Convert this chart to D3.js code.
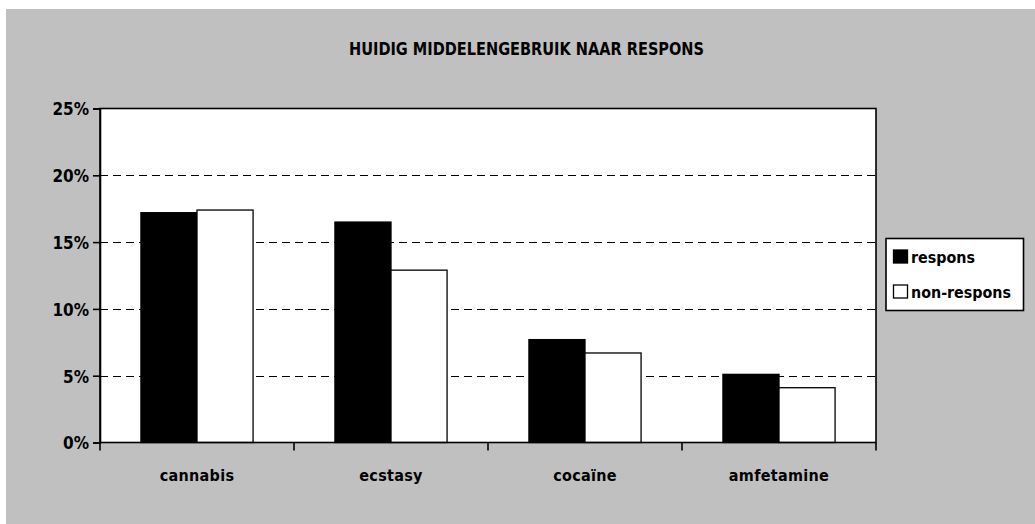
<!DOCTYPE html>
<html>
<head>
<meta charset="utf-8">
<script src="https://cdn.jsdelivr.net/npm/d3@7"></script>
<style>
  html, body { margin: 0; padding: 0; background: #ffffff; }
  svg { display: block; }
  text { font-family: "Liberation Sans Narrow", "DejaVu Sans Condensed", "Arial Narrow", sans-serif; font-weight: bold; fill: #000; }
</style>
</head>
<body>
<svg id="chart" width="1035" height="524"></svg>
<script>
const title = "HUIDIG MIDDELENGEBRUIK NAAR RESPONS";
const categories = ["cannabis", "ecstasy", "cocaïne", "amfetamine"];
const seriesNames = ["respons", "non-respons"];
const respons = [17.2, 16.5, 7.7, 5.1];
const nonRespons = [17.4, 12.9, 6.7, 4.1];
const yTicks = [0, 5, 10, 15, 20, 25];
const yTickLabels = ["0%", "5%", "10%", "15%", "20%", "25%"];

const seriesValues = [respons, nonRespons];
const seriesFill = ["#000000", "#ffffff"];

const svg = d3.select("#chart");
const W = 1035, H = 524;

// page background frame
svg.append("rect").attr("x", 6).attr("y", 9).attr("width", W - 6).attr("height", H - 9).attr("fill", "#c0c0c0");

const plot = { left: 100, right: 876, top: 108.5, bottom: 442.5 };

const x0 = d3.scaleBand().domain(categories).range([plot.left, plot.right]).padding(0);
const x1 = d3.scaleBand().domain(seriesNames).range([0, x0.bandwidth()]).paddingInner(0).paddingOuter(0.73);
const y = d3.scaleLinear().domain([0, 25]).range([plot.bottom, plot.top]);

// plot background
svg.append("rect").attr("x", plot.left).attr("y", plot.top)
  .attr("width", plot.right - plot.left).attr("height", plot.bottom - plot.top)
  .attr("fill", "#ffffff");

// gridlines
svg.append("g").selectAll("line").data(yTicks.filter(d => d > 0 && d < 25)).join("line")
  .attr("x1", plot.left).attr("x2", plot.right)
  .attr("y1", d => Math.round(y(d)) + 0.5).attr("y2", d => Math.round(y(d)) + 0.5)
  .attr("stroke", "#000").attr("stroke-width", 1).attr("stroke-dasharray", "8,5");

// bars
const groups = svg.append("g").selectAll("g").data(categories).join("g")
  .attr("transform", c => `translate(${x0(c)},0)`);
groups.selectAll("rect").data((c, i) => seriesNames.map((s, j) => ({ s, v: seriesValues[j][i], j })))
  .join("rect")
  .attr("x", d => x1(d.s))
  .attr("y", d => y(d.v))
  .attr("width", x1.bandwidth())
  .attr("height", d => plot.bottom - y(d.v))
  .attr("fill", d => seriesFill[d.j])
  .attr("stroke", "#000").attr("stroke-width", 1.3);

// frame
svg.append("rect").attr("x", plot.left).attr("y", plot.top)
  .attr("width", plot.right - plot.left).attr("height", plot.bottom - plot.top)
  .attr("fill", "none").attr("stroke", "#000").attr("stroke-width", 1.6);

// y axis
const yAxis = d3.axisLeft(y).tickValues(yTicks).tickSize(7).tickPadding(10)
  .tickFormat((d, i) => yTickLabels[i]);
const gy = svg.append("g").attr("transform", `translate(${plot.left},0)`).call(yAxis);
gy.select(".domain").attr("stroke", "#000").attr("stroke-width", 1.6);
gy.selectAll(".tick line").attr("stroke", "#000").attr("stroke-width", 1.6);
gy.selectAll(".tick text").attr("font-size", 17).attr("font-family", null).attr("dy", "0.38em").attr("x", -11);

// x axis ticks at category boundaries
const bounds = categories.map(c => x0(c)).concat([plot.right]);
svg.append("g").selectAll("line").data(bounds).join("line")
  .attr("x1", d => d).attr("x2", d => d)
  .attr("y1", plot.bottom).attr("y2", plot.bottom + 8)
  .attr("stroke", "#000").attr("stroke-width", 1.6);
svg.append("g").selectAll("text").data(categories).join("text")
  .attr("x", c => x0(c) + x0.bandwidth() / 2)
  .attr("y", 481)
  .attr("text-anchor", "middle")
  .attr("font-size", 16)
  .attr("letter-spacing", 0.3)
  .text(c => c);

// title
svg.append("text").attr("x", 526.5).attr("y", 55).attr("text-anchor", "middle")
  .attr("font-size", 17).attr("textLength", 355).attr("lengthAdjust", "spacingAndGlyphs").text(title);

// legend
const lg = svg.append("g");
lg.append("rect").attr("x", 886).attr("y", 238.5).attr("width", 137.5).attr("height", 72)
  .attr("fill", "#fff").attr("stroke", "#000").attr("stroke-width", 1.6);
const legendY = [256.5, 291.5];
const legendLen = [64, 100];
seriesNames.forEach((s, i) => {
  lg.append("rect").attr("x", 893.5).attr("y", legendY[i] - 6.5).attr("width", 14).attr("height", 13)
    .attr("fill", seriesFill[i]).attr("stroke", "#000").attr("stroke-width", 1.3);
  lg.append("text").attr("x", 911).attr("y", legendY[i] + 6).attr("font-size", 16)
    .attr("textLength", legendLen[i]).attr("lengthAdjust", "spacingAndGlyphs").text(s);
});
</script>
</body>
</html>
